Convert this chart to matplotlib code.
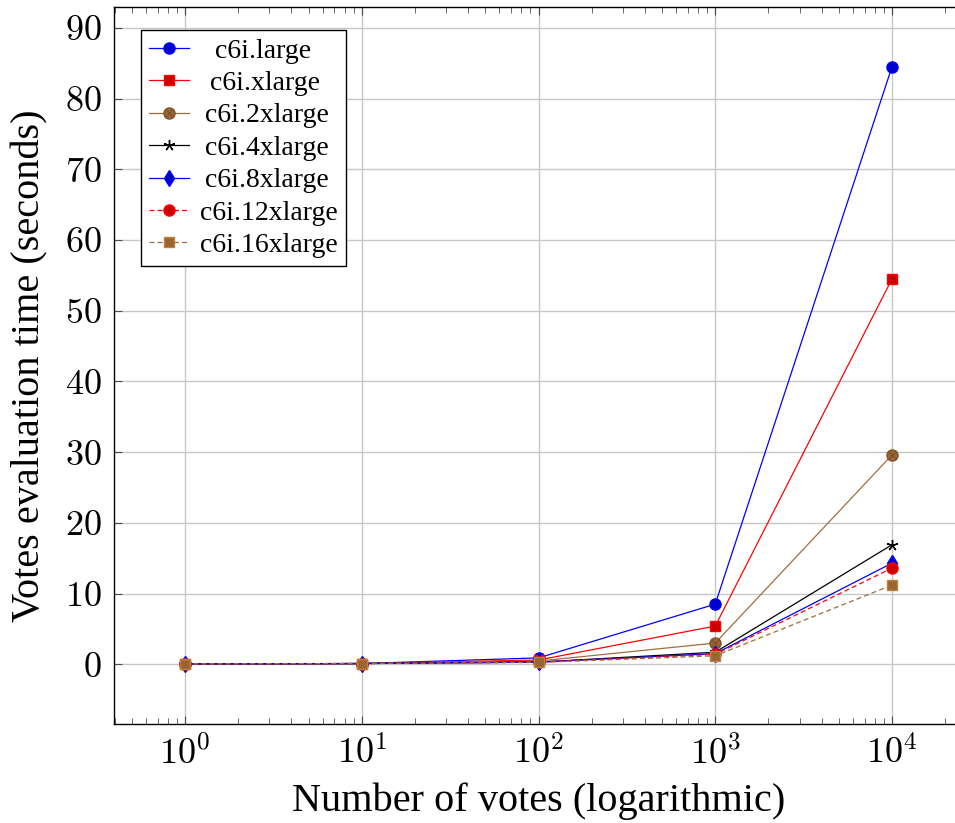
import numpy as np
import matplotlib
matplotlib.use("Agg")
import matplotlib.pyplot as plt
from matplotlib.path import Path
from matplotlib.ticker import FixedLocator, LogLocator, NullFormatter

# Data
votes = [1, 10, 100, 1000, 10000]
instances = ["c6i.large", "c6i.xlarge", "c6i.2xlarge", "c6i.4xlarge",
             "c6i.8xlarge", "c6i.12xlarge", "c6i.16xlarge"]
t_large = [0.05, 0.1, 0.9, 8.5, 84.5]
t_xlarge = [0.05, 0.1, 0.6, 5.4, 54.5]
t_2xlarge = [0.05, 0.1, 0.45, 3.0, 29.6]
t_4xlarge = [0.05, 0.1, 0.3, 1.7, 16.9]
t_8xlarge = [0.05, 0.1, 0.3, 1.5, 14.3]
t_12xlarge = [0.05, 0.1, 0.3, 1.4, 13.6]
t_16xlarge = [0.05, 0.1, 0.25, 1.2, 11.2]
series = [t_large, t_xlarge, t_2xlarge, t_4xlarge, t_8xlarge, t_12xlarge, t_16xlarge]

plt.rcParams['font.family'] = 'Liberation Serif'
plt.rcParams['mathtext.fontset'] = 'cm'

blue = (0, 0, 1)
red = (1, 0, 0)
brown = (0.75, 0.5, 0.25)
brown_line = (0.62, 0.43, 0.25)
black = (0, 0, 0)

def darker(c):
    return tuple(v * 0.8 for v in c)

# circle with a cross (pgfplots otimes*)
circ = Path.unit_circle()
r = np.sqrt(0.5)
cross = Path([(-r, -r), (r, r), (-r, r), (r, -r)],
             [Path.MOVETO, Path.LINETO, Path.MOVETO, Path.LINETO])
otimes = Path.make_compound_path(circ, cross)

styles = [
    dict(color=blue, marker='o', ms=8, mfc=darker(blue), mec=blue, ls='-'),
    dict(color=red, marker='s', ms=7.5, mfc=darker(red), mec=red, ls='-'),
    dict(color=brown_line, marker=otimes, ms=8, mfc=darker(brown), mec=(0.5, 0.33, 0.17), ls='-'),
    dict(color=black, marker=(5, 2, 0), ms=8, mec=black, ls='-'),
    dict(color=blue, marker='d', ms=8, mfc=darker(blue), mec=blue, ls='-'),
    dict(color=red, marker='o', ms=8, mfc=darker(red), mec=red, ls=(0, (4, 2.5))),
    dict(color=brown_line, marker='s', ms=7.5, mfc=darker(brown), mec=brown, ls=(0, (4, 2.5))),
]

fig = plt.figure(figsize=(9.55, 8.23), dpi=100)
ax = fig.add_axes([114.3 / 955, 99 / 823, 848.4 / 955, 717 / 823])

for name, ys, st in zip(instances, series, styles):
    ax.plot(votes, ys, lw=0.9, label=name, **st)

ax.set_xscale('log')
ax.set_xlim(10 ** -0.4, 10 ** 4.4)
ax.set_ylim(-8.45, 92.95)
ax.yaxis.set_major_locator(FixedLocator(range(0, 91, 10)))
ax.yaxis.set_major_formatter(plt.FuncFormatter(lambda v, p: r'$%d$' % v))
ax.xaxis.set_major_locator(FixedLocator(votes))
ax.xaxis.set_major_formatter(plt.FuncFormatter(lambda v, p: r'$10^{%d}$' % round(np.log10(v))))
ax.xaxis.set_minor_locator(LogLocator(base=10, subs=np.arange(2, 10), numticks=20))
ax.xaxis.set_minor_formatter(NullFormatter())

ax.grid(True, which='major', color=(0.78, 0.78, 0.78), lw=1.0)
ax.set_axisbelow(True)
ax.tick_params(which='both', direction='in', top=True, right=True, color=(0.3, 0.3, 0.3))
ax.tick_params(which='major', length=6, labelsize=26, pad=9)
ax.tick_params(which='minor', length=4)
for s in ax.spines.values():
    s.set_linewidth(1.0)

ax.set_xlabel('Number of votes (logarithmic)', fontsize=29, labelpad=8)
ax.set_ylabel('Votes evaluation time (seconds)', fontsize=29, labelpad=12)

leg = ax.legend(loc='upper left', bbox_to_anchor=(0.031, 0.968), borderaxespad=0,
                fontsize=20, fancybox=False, edgecolor='black', framealpha=1,
                handlelength=1.45, labelspacing=0.25, borderpad=0.3, handletextpad=0.4)
leg.get_frame().set_linewidth(1.0)

# center legend texts like pgfplots
fig.canvas.draw()
renderer = fig.canvas.get_renderer()
texts = leg.get_texts()
widths = [t.get_window_extent(renderer).width for t in texts]
wmax = max(widths)
for t, w in zip(texts, widths):
    t.set_position(((wmax - w) / 2 * 72 / fig.dpi, 0))

fig.savefig('out.png', dpi=100)
